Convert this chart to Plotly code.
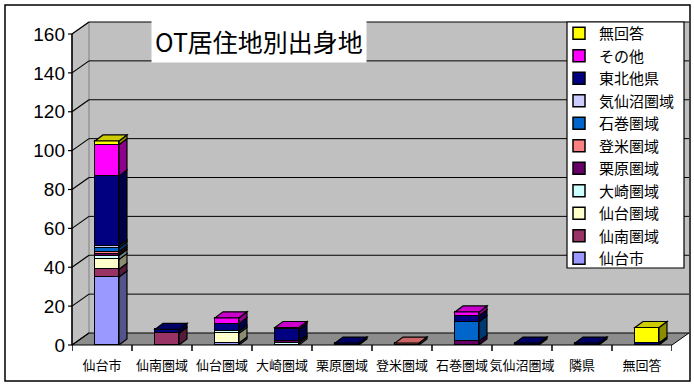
import plotly.graph_objects as go

# ---- data -------------------------------------------------------------
categories = ["仙台市", "仙南圏域", "仙台圏域", "大崎圏域", "栗原圏域",
              "登米圏域", "石巻圏域", "気仙沼圏域", "隣県", "無回答"]

sendai_shi   = [35, 0, 1, 0, 0, 0, 0, 0, 0, 0]
sennan       = [4, 6, 0, 0, 0, 0, 0, 0, 0, 0]
sendai_ken   = [5, 0, 5, 0, 0, 0, 0, 0, 0, 0]
osaki        = [2, 0, 1, 1, 0, 0, 0, 0, 0, 0]
kurihara     = [1, 0, 0, 1, 0, 0, 2, 0, 0, 0]
tome         = [1, 0, 0, 0, 0, 1, 0, 0, 0, 0]
ishinomaki   = [2, 0, 0, 0, 0, 0, 10, 0, 0, 0]
kesennuma    = [1, 0, 0, 0, 0, 0, 0, 0, 0, 0]
tohoku_other = [36, 2, 4, 6, 1, 0, 3, 1, 1, 1]
sonota       = [16, 0, 3, 1, 0, 0, 2, 0, 0, 0]
mukaitou     = [2, 0, 0, 0, 0, 0, 0, 0, 0, 8]

series_names = ["仙台市", "仙南圏域", "仙台圏域", "大崎圏域", "栗原圏域", "登米圏域",
                "石巻圏域", "気仙沼圏域", "東北他県", "その他", "無回答"]
series_values = [sendai_shi, sennan, sendai_ken, osaki, kurihara, tome,
                 ishinomaki, kesennuma, tohoku_other, sonota, mukaitou]
series_colors = ["#9999FF", "#993366", "#FFFFCC", "#CCFFFF", "#660066", "#FF8080",
                 "#0066CC", "#CCCCFF", "#000080", "#FF00FF", "#FFFF00"]

y_ticks = [0, 20, 40, 60, 80, 100, 120, 140, 160]
title_text = "OT居住地別出身地"

# ---- geometry ---------------------------------------------------------
W, H = 694, 386
L, R, T, B = 72, 672, 34, 345          # front plot box in pixels
WALL_DX, WALL_DY = 17, 12              # depth of walls/floor in pixels
BAR_DX, BAR_DY = 8, 6                  # depth of each bar in pixels
BAR_W, BAR_OFF = 0.40, -0.117          # bar width / offset in category units
Y_MAX = 160
LEGEND_BOX = (567, 22, 684, 268)       # left, top, right, bottom in pixels

JP = "Noto Sans CJK JP"
LAT = "Liberation Sans"


def px_x(p):
    return (p - L) / (R - L)


def px_y(p):
    return (B - p) / (B - T)


def shade(hexcol, f):
    h = hexcol.lstrip("#")
    r, g, b = (int(h[i:i + 2], 16) for i in (0, 2, 4))
    return "#%02x%02x%02x" % (int(r * f), int(g * f), int(b * f))


dxp = WALL_DX / (R - L)
dyp = WALL_DY / (B - T)
bar_ddx = BAR_DX / ((R - L) / len(categories))
bar_ddy = BAR_DY / ((B - T) / Y_MAX)

fig = go.Figure()

n_series = len(series_names)
for i, (name, vals, col) in enumerate(zip(series_names, series_values, series_colors)):
    fig.add_trace(go.Bar(
        x=list(range(len(categories))), y=vals, name=name,
        marker=dict(color=col, line=dict(color="black", width=1.5)),
        width=BAR_W, offset=BAR_OFF, legendgroup=name,
        legendrank=n_series - i,
    ))

shapes = []
# back wall, left wall and floor
shapes.append(dict(type="rect", xref="paper", yref="paper", x0=dxp, x1=1 + dxp,
                   y0=dyp, y1=1 + dyp, fillcolor="#c0c0c0", line=dict(width=0),
                   layer="below"))
shapes.append(dict(type="path", xref="paper", yref="paper",
                   path=f"M0,0 L0,1 L{dxp},{1 + dyp} L{dxp},{dyp} Z",
                   fillcolor="#c0c0c0", line=dict(color="#808080", width=1),
                   layer="below"))
shapes.append(dict(type="path", xref="paper", yref="paper",
                   path=f"M0,0 L1,0 L{1 + dxp},{dyp} L{dxp},{dyp} Z",
                   fillcolor="#8c8c8c", line=dict(color="black", width=1),
                   layer="below"))
# gridlines on the back wall and slanted ticks on the side wall
for v in y_ticks:
    yy = v / Y_MAX
    if v > 0:
        shapes.append(dict(type="line", xref="paper", yref="paper", x0=dxp, x1=1 + dxp,
                           y0=yy + dyp, y1=yy + dyp, line=dict(color="black", width=1),
                           layer="below"))
    shapes.append(dict(type="line", xref="paper", yref="paper", x0=0, x1=dxp,
                       y0=yy, y1=yy + dyp, line=dict(color="black", width=1.2),
                       layer="below"))
    shapes.append(dict(type="line", xref="paper", yref="paper", x0=px_x(L - 4), x1=0,
                       y0=yy, y1=yy, line=dict(color="black", width=1.2)))
# front vertical axis line
shapes.append(dict(type="line", xref="paper", yref="paper", x0=0, x1=0, y0=0, y1=1,
                   line=dict(color="black", width=1.5)))
# category boundary ticks on the floor front edge
for k in range(-1, len(categories)):
    shapes.append(dict(type="line", xref="x", yref="paper", x0=k + 0.5, x1=k + 0.5,
                       y0=0, y1=px_y(B + 6), line=dict(color="black", width=1.5)))

# side and top faces of the stacked bars
for ci in range(len(categories)):
    base = 0
    top_col = None
    xl = ci + BAR_OFF
    xr = xl + BAR_W
    for vals, col in zip(series_values, series_colors):
        v = vals[ci]
        if v <= 0:
            continue
        y0, y1 = base, base + v
        shapes.append(dict(
            type="path", xref="x", yref="y",
            path=(f"M{xr},{y0} L{xr + bar_ddx},{y0 + bar_ddy} "
                  f"L{xr + bar_ddx},{y1 + bar_ddy} L{xr},{y1} Z"),
            fillcolor=shade(col, 0.55), line=dict(color="black", width=1.2)))
        base = y1
        top_col = col
    if top_col is not None:
        shapes.append(dict(
            type="path", xref="x", yref="y",
            path=(f"M{xl},{base} L{xr},{base} L{xr + bar_ddx},{base + bar_ddy} "
                  f"L{xl + bar_ddx},{base + bar_ddy} Z"),
            fillcolor=shade(top_col, 0.8), line=dict(color="black", width=1.2)))

# white legend panel
lb_l, lb_t, lb_r, lb_b = LEGEND_BOX
shapes.append(dict(type="rect", xref="paper", yref="paper",
                   x0=px_x(lb_l), x1=px_x(lb_r), y0=px_y(lb_b), y1=px_y(lb_t),
                   fillcolor="white", line=dict(color="black", width=1.2)))

# outer chart frame
shapes.append(dict(type="rect", xref="paper", yref="paper",
                   x0=px_x(5), x1=px_x(690), y0=px_y(381), y1=px_y(5),
                   line=dict(color="black", width=1.5), fillcolor="rgba(0,0,0,0)"))

fig.update_layout(
    width=W, height=H,
    margin=dict(l=L, r=W - R, t=T, b=H - B, autoexpand=False),
    paper_bgcolor="white", plot_bgcolor="rgba(0,0,0,0)",
    barmode="stack", bargap=0,
    shapes=shapes,
    showlegend=True,
    legend=dict(x=px_x(lb_l - 8), y=px_y(lb_t - 5), xanchor="left", yanchor="top",
                bgcolor="rgba(0,0,0,0)", borderwidth=0,
                traceorder="grouped", tracegroupgap=0,
                font=dict(family=JP, size=15, color="black"),
                itemwidth=30, maxheight=380),
    xaxis=dict(range=[-0.5, len(categories) - 0.5], tickvals=list(range(len(categories))),
               ticktext=categories, showgrid=False, zeroline=False, showline=False,
               ticks="", ticklabelstandoff=11, tickangle=0, automargin=False,
               tickfont=dict(family=JP, size=13, color="black")),
    yaxis=dict(range=[0, Y_MAX], tickvals=y_ticks, showgrid=False, zeroline=False,
               showline=False, ticks="", ticklabelstandoff=6, automargin=False,
               tickfont=dict(family=LAT, size=19, color="black")),
    annotations=[dict(text=title_text, xref="paper", yref="paper",
                      x=px_x(151), y=px_y(41), xanchor="left", yanchor="middle",
                      showarrow=False, bgcolor="white", borderpad=3,
                      font=dict(family=JP, size=25, color="black"))],
)

fig.write_html("out.html")
